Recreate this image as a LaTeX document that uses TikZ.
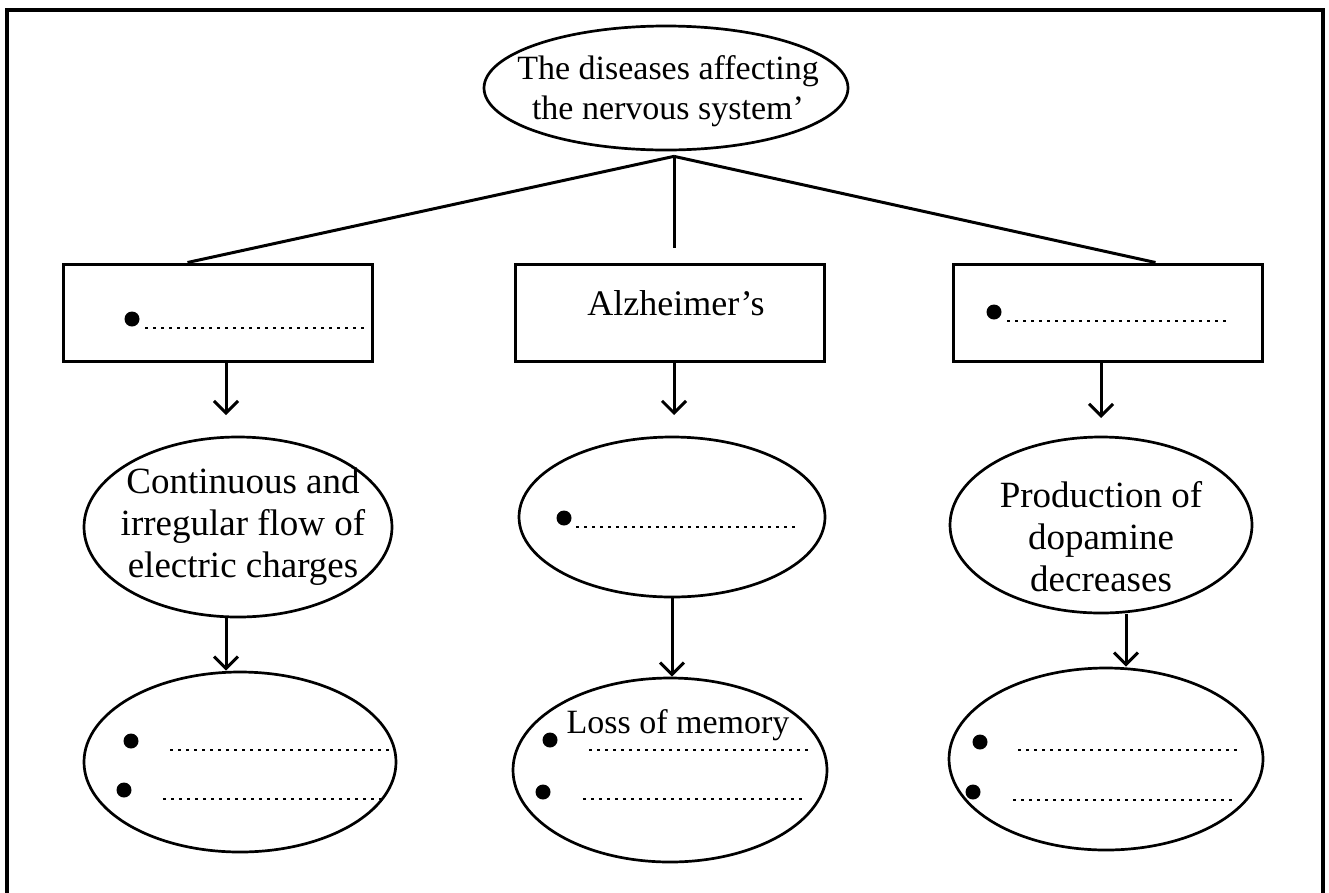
\documentclass[tikz,border=0pt]{standalone}
\usepackage{fontspec}
\setmainfont{Liberation Serif}
\usetikzlibrary{shapes.geometric,arrows.meta}
\tikzset{
  oval/.style={draw, ellipse, line width=2.7pt, inner sep=0pt},
  namebox/.style={draw, rectangle, line width=3pt, minimum width=309pt, minimum height=97pt, inner sep=0pt},
  link/.style={line width=3pt},
  arr/.style={line width=3pt, -{Straight Barb[length=12pt,width=24pt]}},
  blank/.style={line width=2.7pt, dash pattern=on 2.7pt off 5.3pt},
  txt/.style={align=center, inner sep=0pt, font=\fontsize{37}{42}\selectfont},
}
\begin{document}
\begin{tikzpicture}[x=1pt,y=-1pt]
\useasboundingbox (0,0) rectangle (1329,892);
% page frame (open at the bottom)
\draw[line width=4.5pt] (7,905) -- (7,10) -- (1323,10) -- (1323,905);

% title
\node[oval, minimum width=364pt, minimum height=124pt] (top) at (666,88) {};
\node[txt, font=\fontsize{34}{40}\selectfont] (toptxt) at (668,91) {The diseases affecting\\the nervous system’};

% disease boxes
\node[namebox] (lbox) at (217.5,312.5) {};
\node[namebox] (mbox) at (669.5,312.5) {};
\node[namebox] (rbox) at (1107.5,312.5) {};
\node[txt, font=\fontsize{36}{40}\selectfont, anchor=base] (alz) at (676,315) {Alzheimer’s};

% branches from the title
\coordinate (hub) at ([xshift=8pt,yshift=-5pt]top.south);
\coordinate (stub) at (674,248);
\draw[link] (hub) -- ([xshift=126pt]lbox.north west);
\draw[link] (hub) -- (stub);
\draw[link] (hub) -- ([xshift=204pt]rbox.north west);

% cause ellipses
\node[oval, minimum width=308pt, minimum height=180pt] (lmid) at (238,527) {};
\node[oval, minimum width=306pt, minimum height=160pt] (mmid) at (672,517) {};
\node[oval, minimum width=302pt, minimum height=176pt] (rmid) at (1101,525) {};
\node[txt] (ltxt) at (243,527) {Continuous and\\irregular flow of\\electric charges};
\node[txt] (rtxt) at (1101,537) {Production of\\dopamine\\decreases};

% symptom ellipses
\node[oval, minimum width=312pt, minimum height=180pt] (lbot) at (240,762) {};
\node[oval, minimum width=314pt, minimum height=184pt] (mbot) at (670,770) {};
\node[oval, minimum width=314pt, minimum height=182pt] (rbot) at (1106,759) {};
\node[txt, font=\fontsize{34}{40}\selectfont, anchor=base] (loss) at (678,733) {Loss of memory};

% arrows
\coordinate (la) at (226,415);
\coordinate (ma) at (674,415);
\coordinate (ra) at (1101,418);
\draw[arr] (lbox.south -| la) -- (la);
\draw[arr] (mbox.south -| ma) -- (ma);
\draw[arr] (rbox.south -| ra) -- (ra);
\coordinate (lb) at (226,0);
\coordinate (mb) at (672,0);
\coordinate (rb) at (1126,0);
\draw[arr] (lmid.south -| lb) -- (lbot.north -| lb);
\draw[arr] (mmid.south -| mb) -- (mbot.north -| mb);
\draw[arr] (rmid.south -| rb) -- (rbot.north -| rb);

% bullets and blanks to fill in
\fill (132,319) circle (7.5pt);
\draw[blank] (145,328) -- (365,328);
\fill (994,312) circle (7.5pt);
\draw[blank] (1007,321) -- (1226,321);
\fill (564,518) circle (7.5pt);
\draw[blank] (576,527) -- (797,527);

\fill (131,741) circle (7.5pt);
\fill (124,790) circle (7.5pt);
\draw[blank] (170,750) -- (392,750);
\draw[blank] (163,799) -- (385,799);

\fill (550,740) circle (7.5pt);
\fill (543,792) circle (7.5pt);
\draw[blank] (589,750) -- (808,750);
\draw[blank] (583,799) -- (803,799);

\fill (980,742) circle (7.5pt);
\fill (973,792) circle (7.5pt);
\draw[blank] (1018,750) -- (1238,750);
\draw[blank] (1013,800) -- (1232,800);
\end{tikzpicture}
\end{document}
